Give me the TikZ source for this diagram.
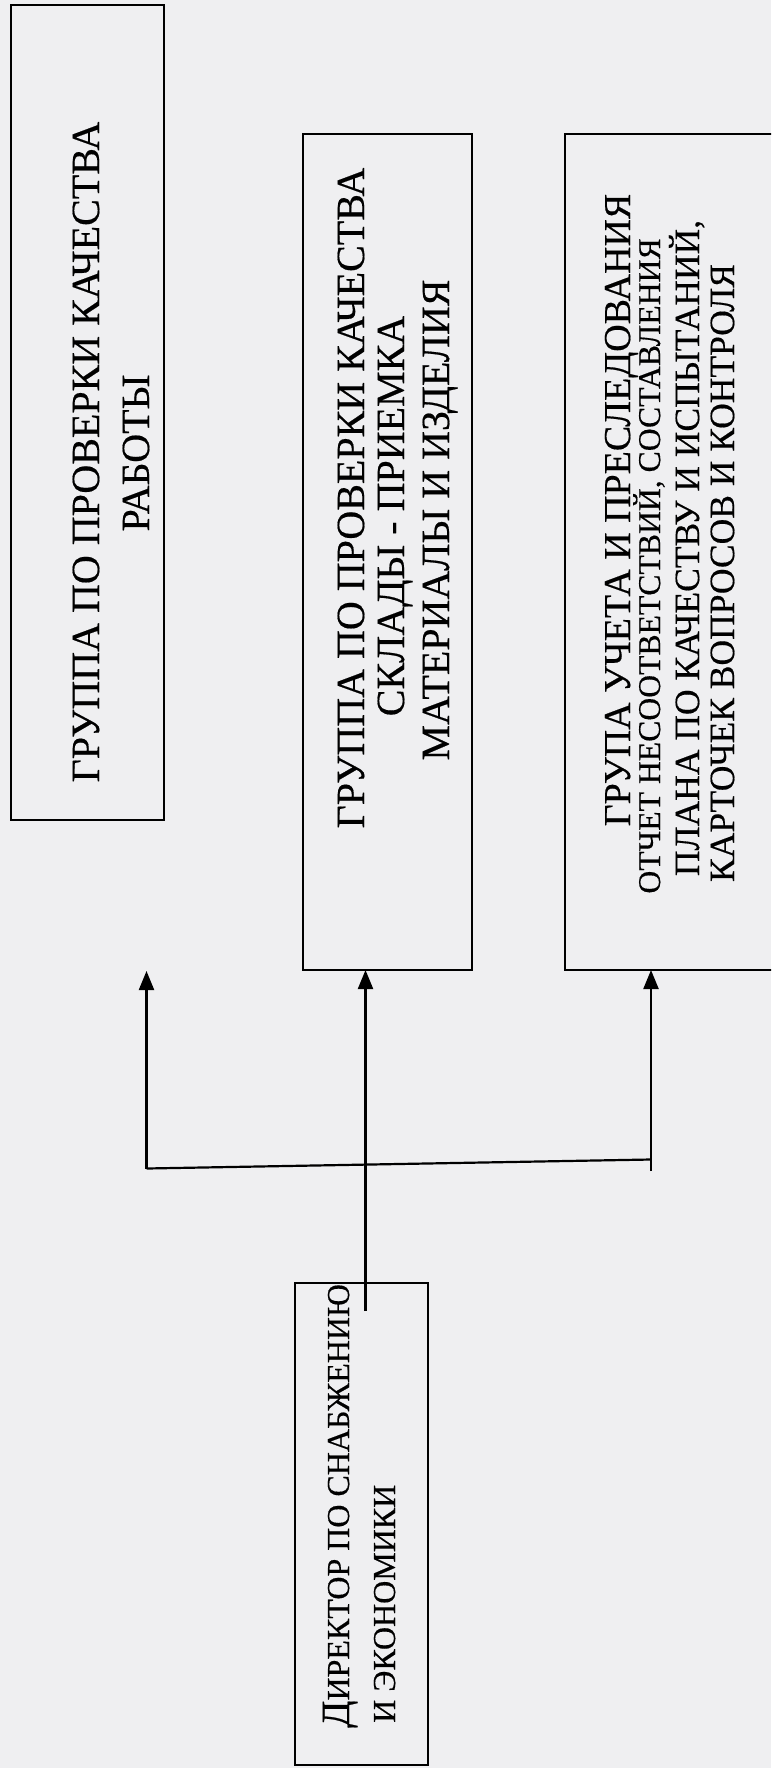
\documentclass[tikz,border=0pt]{standalone}
\usepackage{fontspec}
\setmainfont{Liberation Serif}[FakeBold=0.4]
\usetikzlibrary{arrows.meta}
\definecolor{paper}{RGB}{239,239,241}
\begin{document}
\begin{tikzpicture}[x=1pt,y=-1pt,
  box/.style={draw=black, line width=2.2pt, inner sep=0pt, outer sep=0pt},
  lbl/.style={rotate=90, inner sep=0pt, anchor=base, text=black},
  conn/.style={line width=2.2pt, -{Triangle[length=19pt,width=15pt]}},
  wire/.style={line width=2.2pt}]
\useasboundingbox (0,0) rectangle (771,1768);
\fill[paper] (0,0) rectangle (771,1768);
\clip (0,0) rectangle (771,1768);
% boxes
\node[box, minimum width=153pt, minimum height=815pt] (b1) at (87.5,412.5) {};
\node[box, minimum width=169pt, minimum height=836pt] (b2) at (387.5,552) {};
\node[box, minimum width=235pt, minimum height=836pt] (b3) at (682.5,552) {};
\node[box, minimum width=133pt, minimum height=482pt] (b4) at (361.5,1524) {};
% texts, box 1
\node[lbl, font=\fontsize{40}{40}\selectfont] (t1a) at (99,452) {ГРУППА ПО ПРОВЕРКИ КАЧЕСТВА};
\node[lbl, font=\fontsize{40}{40}\selectfont] (t1b) at (149,453) {РАБОТЫ};
% box 2
\node[lbl, font=\fontsize{40}{40}\selectfont] (t2a) at (364,498) {ГРУППА ПО ПРОВЕРКИ КАЧЕСТВА};
\node[lbl, font=\fontsize{40}{40}\selectfont] (t2b) at (404,516) {СКЛАДЫ - ПРИЕМКА};
\node[lbl, font=\fontsize{40}{40}\selectfont] (t2c) at (449,520) {МАТЕРИАЛЫ И ИЗДЕЛИЯ};
% box 3
\node[lbl, font=\fontsize{38}{38}\selectfont] (t3a) at (630,510) {ГРУПА УЧЕТА И ПРЕСЛЕДОВАНИЯ};
\node[lbl, font=\fontsize{31.7}{32}\selectfont] (t3b) at (660,566) {ОТЧЕТ НЕСООТВЕТСТВИЙ, СОСТАВЛЕНИЯ};
\node[lbl, font=\fontsize{35.5}{36}\selectfont] (t3c) at (699,548) {ПЛАНА ПО КАЧЕСТВУ И ИСПЫТАНИЙ,};
\node[lbl, font=\fontsize{35.5}{36}\selectfont] (t3d) at (734,573) {КАРТОЧЕК ВОПРОСОВ И КОНТРОЛЯ};
% box 4
\node[lbl, anchor=base west, font=\fontsize{32}{32}\selectfont] (t4a) at (349,1728)
  {{\fontsize{40}{40}\selectfont Д}ИРЕКТОР ПО СНАБЖЕНИЮ};
\node[lbl, anchor=base west, font=\fontsize{32}{32}\selectfont] (t4b) at (395,1723) {И ЭКОНОМИКИ};
% connectors
\coordinate (mstart) at (365.5,1311);
\coordinate (lcorner) at (146.5,1168.5);
\coordinate (ltip) at (146.5,971);
\coordinate (rend) at (651,1159.5);
\coordinate (rbot) at (651,1171);
\draw[conn] (mstart) -- (mstart |- b2.south);
\draw[conn] (lcorner) -- (ltip);
\draw[wire] (lcorner) -- (rend);
\draw[conn] (rbot) -- (rbot |- b3.south);
\end{tikzpicture}
\end{document}
